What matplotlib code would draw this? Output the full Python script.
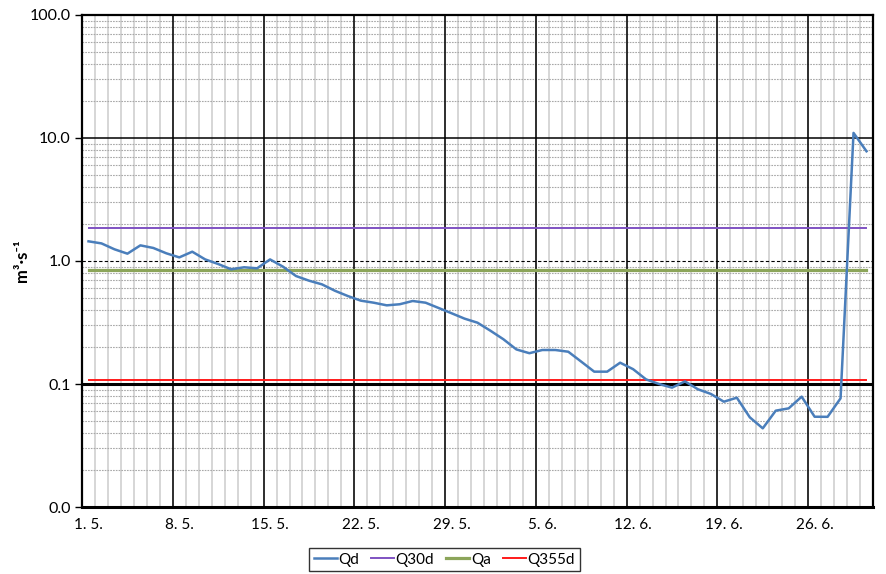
import matplotlib
matplotlib.use("Agg")
import matplotlib.pyplot as plt
import numpy as np
import pandas as pd
from matplotlib.ticker import FixedLocator, FuncFormatter, NullFormatter

plt.rcParams['font.family'] = ['Lato', 'DejaVu Sans']

# daily discharge, 1. 5. - 30. 6.
dates = pd.date_range('2000-05-01', '2000-06-30', freq='D')
qd = [1.445, 1.39, 1.245, 1.147, 1.34, 1.276, 1.155, 1.07, 1.19, 1.03,
      0.945, 0.856, 0.889, 0.872, 1.03, 0.899, 0.755, 0.692, 0.646, 0.573,
      0.519, 0.476, 0.458, 0.436, 0.445, 0.473, 0.458, 0.415, 0.376, 0.340,
      0.315, 0.271, 0.231, 0.191, 0.178, 0.189, 0.189, 0.183, 0.152, 0.126,
      0.126, 0.149, 0.132, 0.109, 0.100, 0.0934, 0.105, 0.0906, 0.083, 0.0718,
      0.0774, 0.0536, 0.0436, 0.0607, 0.0634, 0.0789, 0.0542, 0.0541, 0.0765, 11.0,
      7.8]
q30d = 1.85
qa = 0.845
q355d = 0.108

day = np.arange(len(dates)) + 0.5
week_edges = np.arange(7, len(dates), 7)
label_pos = day[::7]
labels = [f"{d.day}. {d.month}." for d in dates[::7]]

fig = plt.figure(figsize=(8.86, 5.74), dpi=100)
ax = fig.add_axes([0.0926, 0.1167, 0.8927, 0.8572])

ax.set_yscale('log')
ax.set_ylim(0.01, 100)
ax.set_xlim(0, len(dates))

# grid
ax.yaxis.set_major_locator(FixedLocator([0.01, 0.1, 1, 10, 100]))
ax.yaxis.set_major_formatter(FuncFormatter(lambda v, p: f"{v:.1f}"))
minor_y = [m * 10.0 ** e for e in range(-2, 2) for m in range(2, 10)]
ax.yaxis.set_minor_locator(FixedLocator(minor_y))
ax.yaxis.set_minor_formatter(NullFormatter())
ax.xaxis.set_major_locator(FixedLocator(label_pos))
ax.set_xticklabels(labels)
ax.xaxis.set_minor_locator(FixedLocator(np.arange(1, len(dates))))
ax.grid(False)
ax.grid(True, which='minor', axis='x', color='#d6d6d6', lw=1.4)
ax.grid(True, which='minor', axis='y', color='#a8a8a8', lw=0.8, ls=(0, (1.5, 1)))
for w in week_edges:
    ax.axvline(w, color='black', lw=1.1, zorder=2)
ax.axhline(10, color='black', lw=1.1, zorder=2)
ax.axhline(1, color='black', lw=0.8, ls=(0, (3, 2)), zorder=2)
ax.axhline(0.1, color='black', lw=2.2, zorder=2)

ax.plot(day, qd, color='#4a7ebb', lw=1.8, label='Qd', zorder=4)
ax.plot(day, [q30d] * len(day), color='#7f52c2', lw=1.4, label='Q30d', zorder=3)
ax.plot(day, [qa] * len(day), color='#8ca55a', lw=2.3, label='Qa', zorder=3)
ax.plot(day, [q355d] * len(day), color='#ff1a1a', lw=1.4, label='Q355d', zorder=3)

for s in ax.spines.values():
    s.set_color('black')
    s.set_linewidth(1.6)
    s.set_zorder(5)
ax.spines['bottom'].set_linewidth(2.2)

ax.tick_params(axis='x', which='both', length=0, pad=8, labelsize=11)
ax.tick_params(axis='y', which='major', length=5, width=1, labelsize=11.5, pad=3)
ax.tick_params(axis='y', which='minor', length=0)

ax.set_ylabel('m³·s⁻¹', fontsize=12, fontweight='bold')
ax.yaxis.set_label_coords(-0.066, 0.5)

leg = ax.legend(loc='upper center', bbox_to_anchor=(0.458, -0.068), ncol=4, frameon=True,
                fancybox=False, edgecolor='black', fontsize=11, handlelength=1.5,
                handletextpad=0.1, columnspacing=0.8, borderpad=0.3)
leg.get_frame().set_linewidth(1.0)

fig.savefig('out.png', dpi=100)
